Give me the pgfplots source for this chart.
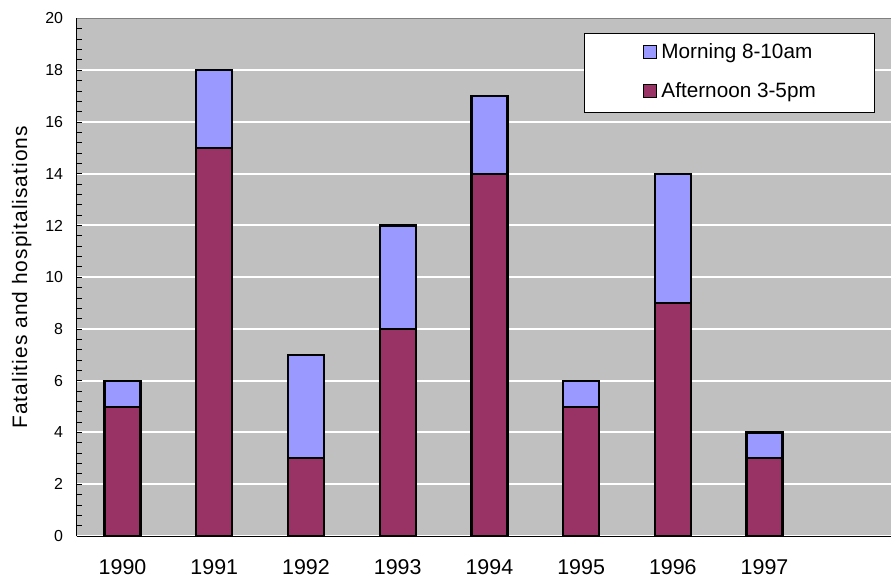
\documentclass[border=0pt]{standalone}
\usepackage{pgfplots}
\pgfplotsset{compat=1.18}
\usepackage{fontspec}
\setmainfont{Liberation Sans}
\definecolor{morning}{HTML}{9999FF}
\definecolor{afternoon}{HTML}{993366}
\definecolor{plotbg}{HTML}{C0C0C0}
\definecolor{frame}{HTML}{808080}
% small square colour key used in the legend box
\newcommand\swatch[1]{\tikz[baseline=0pt]\draw[draw=black, fill=#1, line width=1bp] (0bp,0.2bp) rectangle (12.6bp,12.8bp);\hspace{4.7bp}}
\begin{document}
\begin{tikzpicture}
\useasboundingbox (-76.7bp,-41bp) rectangle (814.3bp,536bp);
\begin{axis}[
  scale only axis,
  width=814.3bp, height=517.5bp,
  xmin=-0.5, xmax=8.379,
  ymin=0, ymax=20,
  ybar stacked, bar width=36bp,
  axis background/.style={fill=plotbg},
  axis x line*=bottom, axis y line*=left,
  axis line style={black, line width=1bp},
  xtick={0,...,7},
  xticklabels={1990,1991,1992,1993,1994,1995,1996,1997},
  x tick style={draw=none},
  ytick={0,2,...,20}, minor y tick num=4,
  tick align=inside,
  major tick length=5bp, minor tick length=5bp,
  y tick style={black, line width=0.8bp},
  ymajorgrids, major grid style={white, line width=2bp},
  /pgf/number format/assume math mode=true,
  xticklabel style={font=\fontsize{21.5}{25}\selectfont, inner sep=0pt, anchor=north, yshift=-23bp},
  yticklabel style={font=\fontsize{16}{19}\selectfont, inner sep=0pt, anchor=east, xshift=-13.4bp},
  ylabel={Fatalities and hospitalisations},
  ylabel style={font=\fontsize{21}{25}\selectfont\addfontfeature{LetterSpace=5}, inner sep=0pt,
    at={(axis description cs:-0.0553,0.5)}, anchor=south, rotate=0},
]
% plot-area frame along the top edge
\draw[frame, line width=1bp] (rel axis cs:0,1) -- (rel axis cs:1,1);

% afternoon counts at the bottom, morning counts stacked on top
\addplot[fill=afternoon, draw=black, line width=2.2bp]
  coordinates {(0,5) (1,15) (2,3) (3,8) (4,14) (5,5) (6,9) (7,3)};
\addplot[fill=morning, draw=black, line width=2.2bp]
  coordinates {(0,1) (1,3) (2,4) (3,4) (4,3) (5,1) (6,5) (7,1)};

% legend box
\node[draw=black, line width=0.8bp, fill=white, anchor=north west,
      inner xsep=58.5bp, inner ysep=10.4bp, align=left,
      font=\fontsize{20.8}{39}\selectfont]
  at (axis description cs:0.6233,0.9724)
  {\swatch{morning}Morning 8-10am\\\swatch{afternoon}Afternoon 3-5pm};
\end{axis}
\end{tikzpicture}
\end{document}
